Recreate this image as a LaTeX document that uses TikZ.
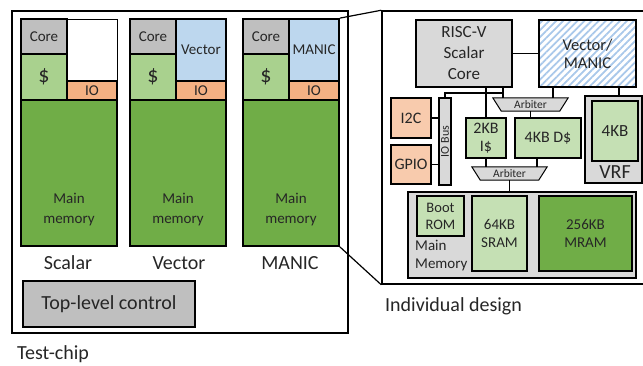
\documentclass[tikz,border=0pt]{standalone}
\usepackage{fontspec}
\setmainfont{Carlito}
\usetikzlibrary{patterns.meta,calc}
\definecolor{cgray}{HTML}{BFBFBF}
\definecolor{lgray}{HTML}{D9D9D9}
\definecolor{cgreen}{HTML}{A9D18E}
\definecolor{pgreen}{HTML}{C5E0B4}
\definecolor{dgreen}{HTML}{70AD47}
\definecolor{corange}{HTML}{F4B183}
\definecolor{porange}{HTML}{F8CBAD}
\definecolor{cblue}{HTML}{BDD7EE}
\definecolor{sblue}{HTML}{A9C8EA}
\definecolor{ink}{HTML}{262626}
\tikzset{
 wh/.style 2 args={minimum width=#1pt, minimum height=#2pt},
 blk/.style={draw=black, line width=1.8pt, inner sep=0pt, align=center, text=ink, font=\fontsize{15}{18}\selectfont},
 rblk/.style={draw=black, line width=1.5pt, inner sep=0pt, align=center, text=ink, font=\fontsize{16}{18}\selectfont},
 memtext/.style={inner sep=0pt, align=center, text=ink, font=\fontsize{15}{20}\selectfont},
 dollar/.style={font=\fontsize{22}{24}\selectfont},
 wire/.style={line width=1.2pt},
 lbl/.style={text=ink, font=\fontsize{20}{24}\selectfont, inner sep=0pt},
 arbt/.style={inner sep=0pt, text=ink, font=\fontsize{11.5}{13}\selectfont},
 arbbox/.style={fill=lgray, line width=1pt},
}
\begin{document}
\begin{tikzpicture}[x=1pt, y=-1pt]
\useasboundingbox (0,0) rectangle (643,365);
% ---------- Test-chip panel ----------
\node[draw, line width=1.2pt, wh={336}{322}] (chip) at (180,172) {};
% Scalar column
\node[blk, wh={46}{35}, fill=cgray] (coreS) at (44,36.5) {Core};
\node[blk, wh={46}{46}, fill=cgreen, dollar] (cacheS) at (44,77) {\$};
\node[draw, line width=0.8pt, wh={50}{62}, fill=white, inner sep=0pt] (accS) at (92,50) {};
\node[blk, wh={50}{19}, fill=corange] (ioS) at (92,90.5) {IO};
\node[blk, wh={96}{146}, fill=dgreen] (memS) at (69,173) {};
\node[memtext] (memtS) at (69,210) {Main\\memory};
% Vector column
\node[blk, wh={46}{35}, fill=cgray] (coreV) at (153,36.5) {Core};
\node[blk, wh={46}{46}, fill=cgreen, dollar] (cacheV) at (153,77) {\$};
\node[blk, wh={50}{62}, fill=cblue] (accV) at (201,50) {Vector};
\node[blk, wh={50}{19}, fill=corange] (ioV) at (201,90.5) {IO};
\node[blk, wh={96}{146}, fill=dgreen] (memV) at (178,173) {};
\node[memtext] (memtV) at (178,210) {Main\\memory};
% MANIC column
\node[blk, wh={46}{35}, fill=cgray] (coreM) at (266,36.5) {Core};
\node[blk, wh={46}{46}, fill=cgreen, dollar] (cacheM) at (266,77) {\$};
\node[blk, wh={50}{62}, fill=cblue] (accM) at (314,50) {MANIC};
\node[blk, wh={50}{19}, fill=corange] (ioM) at (314,90.5) {IO};
\node[blk, wh={96}{146}, fill=dgreen] (memM) at (291,173) {};
\node[memtext] (memtM) at (291,210) {Main\\memory};
% labels
\node[lbl] (labS) at (68,263) {Scalar};
\node[lbl] (labV) at (179,263) {Vector};
\node[lbl] (labM) at (290,263) {MANIC};
\node[draw, line width=1.8pt, fill=cgray, wh={172}{46}, text=ink, font=\fontsize{20}{24}\selectfont, inner sep=0pt] (top) at (109,304) {Top-level control};
\node[lbl, anchor=west] (tc) at (17,354) {Test-chip};
% ---------- Individual design panel ----------
\node[draw, line width=1.5pt, wh={270}{273}] (ind) at (517,147.5) {};
\draw[wire] (accM.north east) -- (ind.north west);
\draw[wire] (memM.south east) -- (ind.south west);
\node[rblk, wh={96}{67}, fill=lgray, font=\fontsize{17}{21}\selectfont] (rv) at (464,53.5) {RISC-V\\Scalar\\Core};
\node[rblk, wh={97}{67}, pattern={Lines[angle=45,distance=5pt,line width=1.8pt]}, pattern color=sblue, font=\fontsize{16.5}{18}\selectfont] (vm) at (587.5,53.5) {Vector/\\MANIC};
\node[rblk, wh={40}{40}, fill=porange] (i2c) at (411,118) {I2C};
\node[rblk, wh={40}{39}, fill=porange] (gpio) at (411,164.5) {GPIO};
\node[draw, line width=1.2pt, fill=lgray, wh={12}{87}, inner sep=0pt] (iob) at (445,141.5) {};
\node[rotate=90, inner sep=0pt, text=ink, font=\fontsize{12}{14}\selectfont] (iobt) at (iob) {IO Bus};
\node[rblk, wh={40}{40}, fill=pgreen] (icache) at (486,138) {2KB\\I\$};
\node[rblk, wh={66}{40}, fill=pgreen] (dcache) at (548,138) {4KB D\$};
\node[draw, line width=1.5pt, fill=lgray, wh={57}{87}, inner sep=0pt] (vrf) at (613.5,139.5) {};
\node[rblk, wh={46}{60}, fill=pgreen, font=\fontsize{17}{20}\selectfont] (vrfm) at (615,131) {4KB};
\node[lbl] (vrft) at (615,172.5) {VRF};
\node[draw, line width=1.5pt, fill=lgray, wh={228}{86}, inner sep=0pt] (mm) at (522,235) {};
\node[rblk, wh={47}{40}, fill=pgreen, font=\fontsize{14.5}{17}\selectfont] (boot) at (440.5,216) {Boot\\ROM};
\node[rblk, wh={55}{75}, fill=pgreen, font=\fontsize{15}{18}\selectfont] (sram) at (499.5,233.5) {64KB\\SRAM};
\node[rblk, wh={93}{75}, fill=dgreen, font=\fontsize{15}{18}\selectfont] (mram) at (585.5,233.5) {256KB\\MRAM};
\node[anchor=west, align=left, inner sep=0pt, text=ink, font=\fontsize{15}{18}\selectfont] (mmt) at (415,256) {Main\\Memory};
\node[lbl, anchor=west] (indl) at (385,306) {Individual design};
% arbiters
\node[wh={75}{13}, inner sep=0pt] (arb1) at (530.5,104.5) {};
\draw[arbbox] (arb1.north west) -- (arb1.north east) -- ($(arb1.south east)+(-8.5,0)$) -- ($(arb1.south west)+(8.5,0)$) -- cycle;
\node[arbt] (arb1t) at (arb1) {Arbiter};
\node[wh={75}{13}, inner sep=0pt] (arb2) at (509.5,173.5) {};
\draw[arbbox] (arb2.north west) -- (arb2.north east) -- ($(arb2.south east)+(-8.5,0)$) -- ($(arb2.south west)+(8.5,0)$) -- cycle;
\node[arbt] (arb2t) at (arb2) {Arbiter};
% wires
\coordinate (jn) at (503,93);
\coordinate (jv) at (553,93);
\coordinate (jr) at (619,90);
\coordinate (jd) at (537,162);
\draw[wire] (rv.east) -- (vm.west);
\draw[wire] (rv.south -| jn) -- (arb1.north -| jn);
\draw[wire] (jn) -| (iob.north);
\draw[wire] (rv.south -| icache) -- (icache.north);
\draw[wire] (vm.south -| jv) -- (arb1.north -| jv);
\draw[wire] (vm.south -| jr) -- (vrf.north -| jr);
\draw[wire] (arb1.south) -- (arb1.south |- dcache.north);
\draw[wire] (i2c.east) -- (i2c.east -| iob.west);
\draw[wire] (gpio.east) -- (gpio.east -| iob.west);
\draw[wire] (icache.south) -- (icache.south |- arb2.north);
\draw[wire] (dcache.south -| jd) -- (arb2.north -| jd);
\draw[wire] (arb2.south) -- (arb2.south |- mm.north);
\end{tikzpicture}
\end{document}
